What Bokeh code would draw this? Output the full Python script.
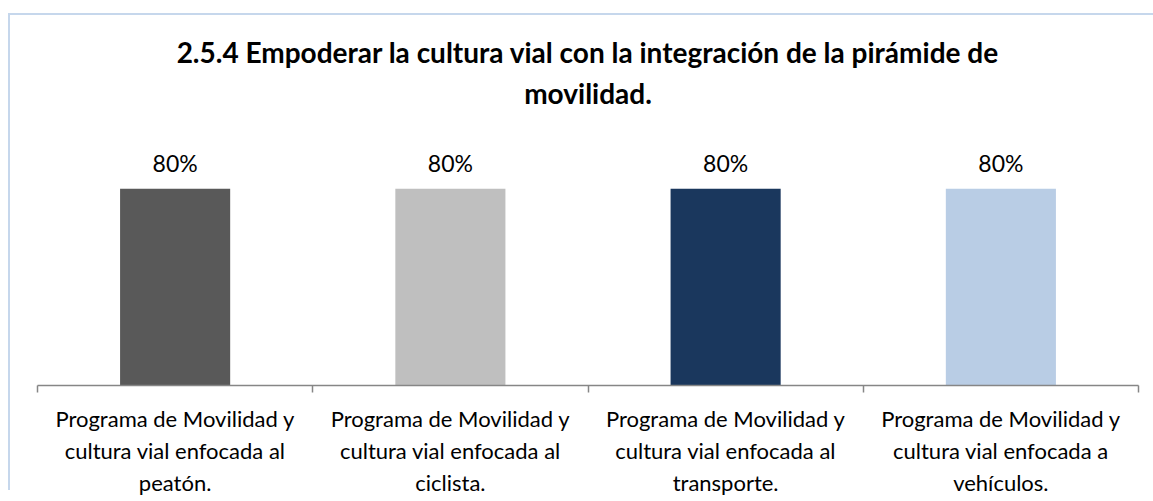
from bokeh.plotting import figure
from bokeh.models import Range1d, FixedTicker, ColumnDataSource, LabelSet, Title
from bokeh.core.properties import value
from bokeh.embed import file_html
from bokeh.resources import INLINE

title_lines = ["2.5.4 Empoderar la cultura vial con la integración de la pirámide de", "movilidad."]
categories = [
    "Programa de Movilidad y\ncultura vial enfocada al\npeatón.",
    "Programa de Movilidad y\ncultura vial enfocada al\nciclista.",
    "Programa de Movilidad y\ncultura vial enfocada al\ntransporte.",
    "Programa de Movilidad y\ncultura vial enfocada a\nvehículos.",
]
values = [0.80, 0.80, 0.80, 0.80]
colors = ["#595959", "#bfbfbf", "#1a375d", "#b9cde5"]

positions = [i + 0.5 for i in range(len(categories))]
source = ColumnDataSource(dict(x=positions, top=values, color=colors,
                               label=[f"{v:.0%}" for v in values]))

FONT = "Lato"
EDGE = "#c6d7ec"

p = figure(width=1145, height=499, x_range=Range1d(0, len(categories)), y_range=Range1d(0, 1),
           output_backend="svg", toolbar_location=None,
           min_border_left=29, min_border_right=15, min_border_top=139, min_border_bottom=113)
p.border_fill_color = None
p.background_fill_color = None
# chart-area edge (top and left) drawn as host background lines
p.styles = {
    "margin-left": "8px",
    "background-color": "#ffffff",
    "background-image": f"linear-gradient({EDGE}, {EDGE}), linear-gradient({EDGE}, {EDGE})",
    "background-size": "100% 2px, 2px 477px",
    "background-position": "0px 13px, 0px 13px",
    "background-repeat": "no-repeat",
}

title = Title(text="\n".join(title_lines), align="center", text_font=FONT, text_font_size="28px",
              text_font_style="bold", text_color="#000000", standoff=59, text_line_height=1.2)
if "text_align" in Title.properties():
    title.text_align = "center"
p.title = title

p.vbar(x="x", top="top", width=0.4, color="color", source=source, line_color=None)

labels = LabelSet(x="x", y="top", text="label", source=source, text_align="center",
                  text_baseline="middle", y_offset=26, text_font=value(FONT), text_font_size="23px",
                  text_color="#000000")
p.add_layout(labels)

p.yaxis.visible = False
p.grid.grid_line_color = None
p.outline_line_color = None

ax = p.xaxis[0]
ax.ticker = FixedTicker(ticks=positions, minor_ticks=list(range(len(categories) + 1)))
ax.major_label_overrides = {pos: cat for pos, cat in zip(positions, categories)}
ax.major_tick_line_color = None
ax.major_tick_out = 0
ax.major_tick_in = 0
ax.minor_tick_line_color = "#868686"
ax.minor_tick_out = 7
ax.minor_tick_in = 0
ax.minor_tick_line_width = 1.5
ax.axis_line_color = "#868686"
ax.axis_line_width = 1.5
ax.major_label_standoff = 12
ax.major_label_text_font = FONT
ax.major_label_text_font_size = "22px"
ax.major_label_text_color = "#000000"
ax.major_label_orientation = "horizontal"

open("out.html", "w").write(file_html(p, INLINE))
